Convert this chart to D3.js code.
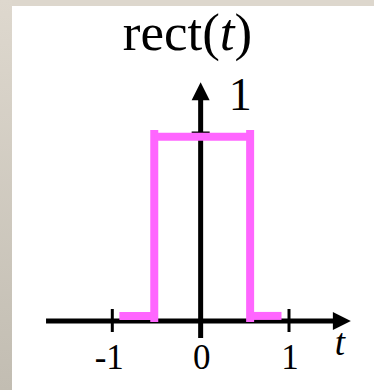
<!DOCTYPE html>
<html>
<head>
<meta charset="utf-8">
<script src="https://cdn.jsdelivr.net/npm/d3@7"></script>
<style>
  html, body { margin: 0; padding: 0; background: #fff; }
  svg { display: block; }
  text { font-family: "Liberation Serif", "Times New Roman", "DejaVu Serif", serif; fill: #000; }
</style>
</head>
<body>
<svg id="chart" width="374" height="390"></svg>
<script>
// Tick values on the time axis and their labels
const xTicks = [-1, 0, 1];
const xTickLabels = ["-1", "0", "1"];
// Tick on the amplitude axis
const yTicks = [1];
const yTickLabels = ["1"];
// Extent of the drawn axes (arrow tips)
const tExtent = [-1.75, 1.70];
const vExtent = [-0.09, 1.27];
// The rect(t) pulse, drawn as separate strokes: [t0, v0, t1, v1]
const pulseSegments = [
  [-0.92, 0.027, -0.525, 0.027],
  [-0.525, -0.005, -0.525, 1.016],
  [-0.525, 0.98, 0.56, 0.98],
  [0.56, -0.005, 0.56, 1.016],
  [0.56, 0.027, 0.915, 0.027]
];

const svg = d3.select("#chart");
const W = 374, H = 390;

// slide-style frame: beige strips on top and left edge
const defs = svg.append("defs");
const grad = defs.append("linearGradient").attr("id", "frameGrad")
  .attr("x1", 0).attr("y1", 0).attr("x2", 0).attr("y2", 1);
grad.append("stop").attr("offset", "0%").attr("stop-color", "#ded8ce");
grad.append("stop").attr("offset", "100%").attr("stop-color", "#c2bdb2");
svg.append("rect").attr("x", 0).attr("y", 0).attr("width", W).attr("height", 6).attr("fill", "#ddd7cd");
svg.append("rect").attr("x", 0).attr("y", 0).attr("width", 12).attr("height", H).attr("fill", "url(#frameGrad)");

const x = d3.scaleLinear().domain([-1, 1]).range([112.3, 289]);
const y = d3.scaleLinear().domain([0, 1]).range([321, 133]);

const g = svg.append("g");

// horizontal (t) axis with arrow
g.append("line")
  .attr("x1", x(tExtent[0])).attr("x2", x(tExtent[1]) - 14)
  .attr("y1", y(0)).attr("y2", y(0))
  .attr("stroke", "#000").attr("stroke-width", 5);
const tx = x(tExtent[1]);
g.append("path")
  .attr("d", `M${tx},${y(0)} L${tx - 18},${y(0) - 9} L${tx - 18},${y(0) + 9} Z`)
  .attr("fill", "#000");

// vertical axis with arrow
g.append("line")
  .attr("x1", x(0)).attr("x2", x(0))
  .attr("y1", y(vExtent[0])).attr("y2", y(vExtent[1]) + 14)
  .attr("stroke", "#000").attr("stroke-width", 5);
const ty = y(vExtent[1]);
g.append("path")
  .attr("d", `M${x(0)},${ty} L${x(0) - 9},${ty + 18} L${x(0) + 9},${ty + 18} Z`)
  .attr("fill", "#000");

// tick marks on the t axis
g.selectAll("line.xtick").data(xTicks.filter(d => d !== 0)).join("line")
  .attr("class", "xtick")
  .attr("x1", d => x(d)).attr("x2", d => x(d))
  .attr("y1", y(0) - 12).attr("y2", y(0) + 11)
  .attr("stroke", "#000").attr("stroke-width", 3);

// tick mark at amplitude 1
g.selectAll("line.ytick").data(yTicks).join("line")
  .attr("class", "ytick")
  .attr("x1", x(0) - 9).attr("x2", x(0) + 9)
  .attr("y1", d => y(d)).attr("y2", d => y(d))
  .attr("stroke", "#000").attr("stroke-width", 3);

// the rectangular pulse
g.selectAll("line.pulse").data(pulseSegments).join("line")
  .attr("class", "pulse")
  .attr("x1", d => x(d[0])).attr("y1", d => y(d[1]))
  .attr("x2", d => x(d[2])).attr("y2", d => y(d[3]))
  .attr("stroke", "#ff66ff").attr("stroke-width", 8);

// tick labels
g.selectAll("text.xlab").data(xTicks).join("text")
  .attr("class", "xlab")
  .attr("x", (d, i) => x(d) + (d < 0 ? -3 : 1))
  .attr("y", 369)
  .attr("text-anchor", "middle")
  .attr("font-size", 35)
  .text((d, i) => xTickLabels[i]);

g.selectAll("text.ylab").data(yTicks).join("text")
  .attr("class", "ylab")
  .attr("x", x(0) + 28)
  .attr("y", d => y(d) - 23)
  .attr("font-size", 46)
  .text((d, i) => yTickLabels[i]);

// axis name
g.append("text")
  .attr("x", 340).attr("y", 355)
  .attr("text-anchor", "middle")
  .attr("font-size", 37)
  .attr("font-style", "italic")
  .text("t");

// title
const title = svg.append("text")
  .attr("x", 187.5).attr("y", 50)
  .attr("text-anchor", "middle")
  .attr("font-size", 53);
title.append("tspan").text("rect(");
title.append("tspan").attr("font-style", "italic").text("t");
title.append("tspan").text(")");
</script>
</body>
</html>
